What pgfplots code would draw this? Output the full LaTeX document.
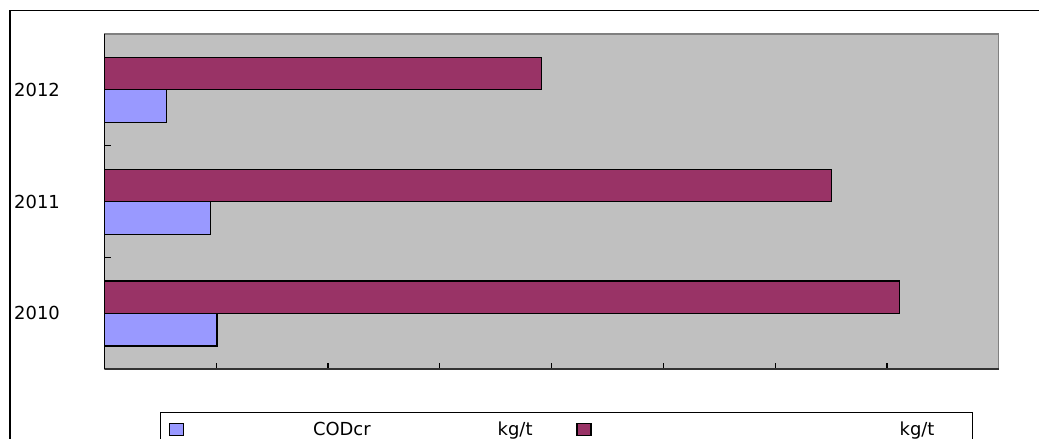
\documentclass[border=0pt]{standalone}
\usepackage{pgfplots}
\pgfplotsset{compat=1.18}
\usepackage{fontspec}
\setmainfont{DejaVu Sans}
\definecolor{barblue}{HTML}{9999FF}
\definecolor{barred}{HTML}{993366}
\definecolor{plotbg}{HTML}{C0C0C0}
\definecolor{edgegray}{HTML}{808080}

\begin{document}
\begin{tikzpicture}
\path[use as bounding box] (0bp,0bp) rectangle (1039bp,439bp);
% outer chart frame
\draw[line width=1.5bp] (9.8bp,-2bp) -- (9.8bp,428.3bp) -- (1041bp,428.3bp);
\begin{axis}[
    at={(104.5bp,69.7bp)}, anchor=south west,
    scale only axis, width=894.2bp, height=335.3bp,
    xbar, bar width=32.5bp,
    xmin=0, xmax=8, ymin=-0.5, ymax=2.5,
    xtick={0,...,8}, xticklabels={},
    ytick={0,1,2}, yticklabels={2010,2011,2012},
    minor ytick={0.5,1.5},
    xtick pos=bottom, ytick pos=left,
    major y tick style={draw=none},
    tick align=inside, major tick length=6bp, minor tick length=6bp,
    tick style={black, line width=1.2bp},
    axis line style={draw=edgegray, line width=1.5bp},
    axis background/.style={fill=plotbg},
    yticklabel style={font=\fontsize{18}{20}\selectfont, anchor=west, inner sep=0pt, xshift=-90.5bp},
    clip=false,
    legend columns=2,
    legend style={at={(0.062,-0.1288)}, anchor=north west, draw=black, line width=1bp,
        inner sep=0pt, nodes={inner sep=0pt, anchor=west},
        font=\fontsize{18}{20}\selectfont,
        /tikz/every even column/.append style={column sep=0pt}},
    legend image code/.code={
        \path[draw=none, fill=none] (0bp,-16.5bp) rectangle (23bp,16.5bp);
        \draw[#1, line width=1.2bp] (9bp,-6bp) rectangle (23bp,6bp);},
]
\addplot[fill=barblue, draw=black, line width=1.2bp, bar shift=-16.25bp] coordinates {
    (1.006,0) (0.946,1) (0.553,2)
};
\addlegendentry{\makebox[384bp][l]{\hspace*{129bp}CODcr\hspace*{127bp}kg/t}}
\addplot[fill=barred, draw=black, line width=1.2bp, bar shift=16.25bp] coordinates {
    (7.110,0) (6.506,1) (3.911,2)
};
\addlegendentry{\makebox[381bp][l]{\hspace*{308bp}kg/t}}
\draw[black, line width=1.8bp] (rel axis cs:0,1) -- (rel axis cs:0,0);
\draw[black!80, line width=1.8bp] (rel axis cs:0,0) -- (rel axis cs:1,0);
\end{axis}
\end{tikzpicture}
\end{document}
